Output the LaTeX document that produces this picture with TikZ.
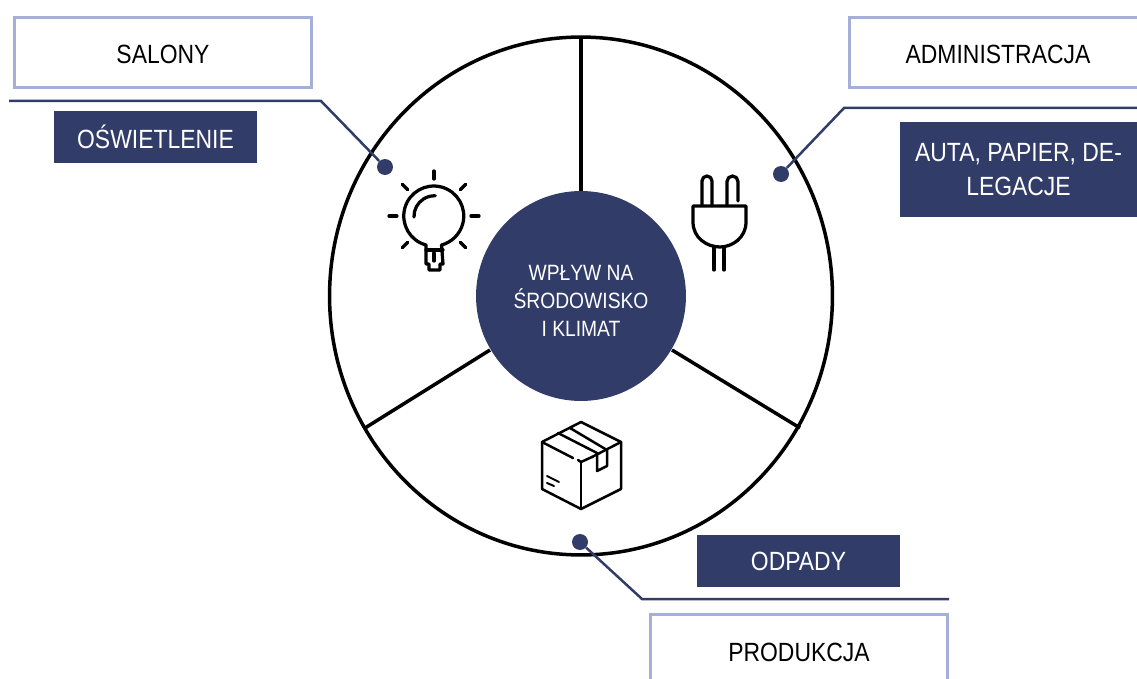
\documentclass[tikz,border=0pt]{standalone}
\usepackage{fontspec}
\usetikzlibrary{shapes.geometric}
\setmainfont[FakeStretch=0.87]{Liberation Sans}
\definecolor{navy}{HTML}{323C69}
\definecolor{lightblue}{HTML}{A6AEDA}
\tikzset{
    lightbox/.style={draw=lightblue,line width=0.06cm,fill=white,minimum width=5.94cm,minimum height=1.4cm,inner sep=0pt},
    boxtext/.style={text=black,font=\fontsize{15}{17}\selectfont,inner sep=0pt},
    navybox/.style={fill=navy,text=white,minimum width=4.06cm,minimum height=1.04cm,inner sep=0pt,align=center,font=\fontsize{15}{19.3}\selectfont},
    leader/.style={draw=navy,line width=0.05cm},
    pindot/.style={circle,fill=navy,minimum size=0.32cm,inner sep=0pt},
    icon/.style={black,line width=0.065cm,line join=round,line cap=round},
}
\begin{document}
\begin{tikzpicture}[x=0.02cm,y=-0.02cm]
    \useasboundingbox (0,0) rectangle (1137,679);
    % wheel
    \node[draw=black,line width=0.07cm,ellipse,minimum width=10.06cm,minimum height=10.36cm,inner sep=0pt] (wheel) at (581,296) {};
    \node[circle,fill=navy,minimum size=4.2cm,inner sep=0pt] (hub) at (581,296) {};
    \coordinate (spokeTop) at (581,38);
    \coordinate (spokeRight) at (800,428);
    \coordinate (spokeLeft) at (365,428);
    \coordinate (hubTop) at (581,191);
    \coordinate (hubRight) at (672,350);
    \coordinate (hubLeft) at (490,350);
    \draw[line width=0.07cm] (spokeTop) -- (hubTop);
    \draw[line width=0.07cm] (spokeRight) -- (hubRight);
    \draw[line width=0.07cm] (spokeLeft) -- (hubLeft);
    \node[text=white,align=center,inner sep=0pt,font=\fontsize{12.6}{16}\selectfont] (hubText) at (581,301) {WPŁYW NA\\ŚRODOWISKO\\I KLIMAT};
    % salony
    \node[lightbox] (salony) at (163,52.5) {};
    \node[boxtext] (salonyText) at (163,54) {SALONY};
    \node[navybox] (oswietlenie) at (155.5,137) {OŚWIETLENIE};
    \node[pindot] (pinSalony) at (385,167) {};
    \coordinate (elbowSalony) at (321,101);
    \coordinate (endSalony) at (9,101);
    \draw[leader] (endSalony) -- (elbowSalony) -- (pinSalony);
    % administracja
    \node[lightbox] (administracja) at (998,52.5) {};
    \node[boxtext] (administracjaText) at (998,54) {ADMINISTRACJA};
    \node[navybox,minimum width=4.74cm,minimum height=1.9cm] (auta) at (1018.5,169.5) {AUTA, PAPIER, DE-\\LEGACJE};
    \node[pindot] (pinAdministracja) at (781,174) {};
    \coordinate (elbowAdministracja) at (844,108);
    \coordinate (endAdministracja) at (1137,108);
    \draw[leader] (endAdministracja) -- (elbowAdministracja) -- (pinAdministracja);
    % produkcja
    \node[lightbox,minimum height=2cm] (produkcja) at (799,664) {};
    \node[boxtext] (produkcjaText) at (799,652) {PRODUKCJA};
    \node[navybox] (odpady) at (798.5,561) {ODPADY};
    \node[pindot] (pinProdukcja) at (580,542) {};
    \coordinate (elbowProdukcja) at (642,599);
    \coordinate (endProdukcja) at (949,599);
    \draw[leader] (endProdukcja) -- (elbowProdukcja) -- (pinProdukcja);
    % bulb
    \draw[icon] (426,245) arc (105:435:30) -- (443,264) -- (440,264) -- (440,270) -- (429,270) -- (429,264) -- (426,264) -- cycle;
    \draw[icon] (426,250) -- (443,250);
    \draw[icon] (414,217) arc (178:272:20.5);
    \foreach \a in {0,45,...,315}
        \draw[icon] ({434+37*cos(\a)},{216+37*sin(\a)}) -- ({434+45*cos(\a)},{216+45*sin(\a)});
    % plug
    \draw[icon] (702,205) -- (702,181) arc (180:360:5) -- (712,205);
    \draw[icon] (727,205) -- (727,181.5) arc (180:360:5.5) -- (738,201);
    \draw[icon] (693,206) -- (746,206) -- (746,222) .. controls (746,238) and (732,247) .. (720,247) .. controls (707,247) and (693,238) .. (693,222) -- cycle;
    \draw[icon] (714,247) -- (714,270);
    \draw[icon] (724,247) -- (724,270);
    % package
    \draw[icon,line width=0.05cm] (573,458) -- (542,442) -- (581,422) -- (621,442) -- (592,457);
    \draw[icon,line width=0.05cm] (542,442) -- (542,489) -- (581,509) -- (621,489) -- (621,442);
    \draw[icon,line width=0.05cm] (581,462) -- (581,509);
    \draw[icon,line width=0.05cm] (592,457) -- (581,462) -- (578,460);
    \draw[icon,line width=0.05cm] (558,433) -- (597,453) -- (597,471) -- (607,466) -- (607,450) -- (570,428);
    \draw[icon,line width=0.04cm] (547,476) -- (559,482);
    \draw[icon,line width=0.04cm] (547,483) -- (554,486);
\end{tikzpicture}
\end{document}
